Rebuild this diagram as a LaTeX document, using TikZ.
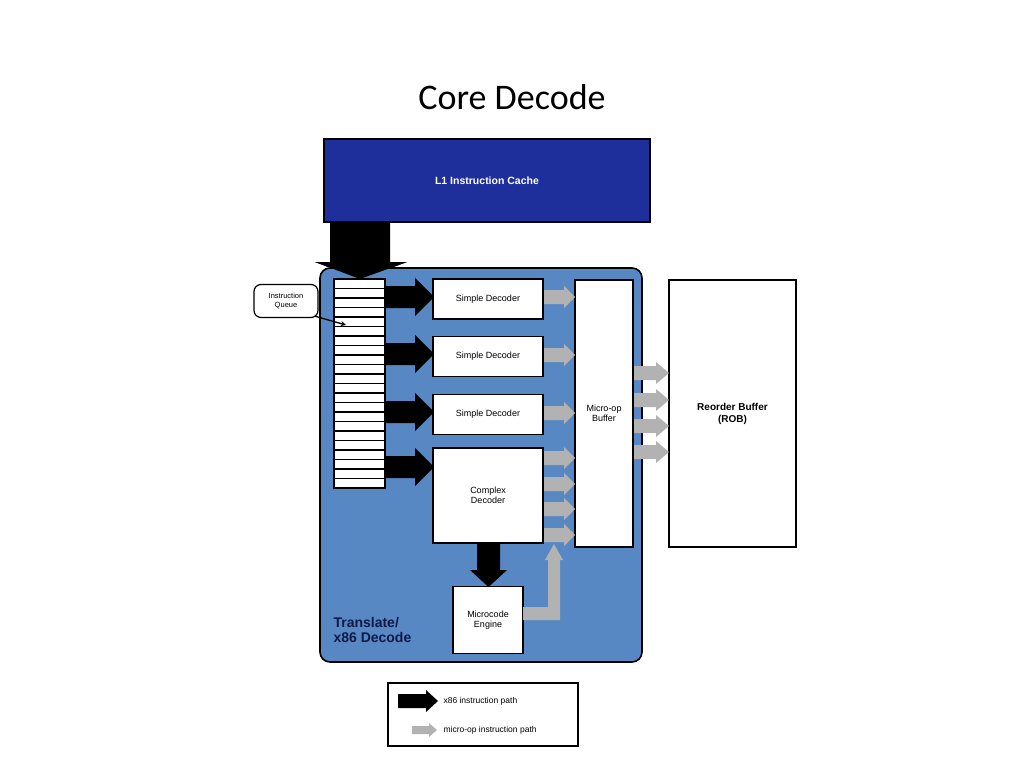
\documentclass[tikz,border=0pt]{standalone}
\usepackage{fontspec}
\setmainfont{Liberation Sans}
\newfontfamily\titlefont{Carlito}
\begin{document}
\begin{tikzpicture}[x=1pt,y=-1pt,
  box/.style={draw=black,line width=1.6pt,fill=white,font=\fontsize{9}{10}\selectfont,align=center,inner sep=0},
  blk/.style={fill=black},
  gry/.style={fill=gray!60}]
\useasboundingbox (0,0) rectangle (1024,768);
\node[font=\titlefont\fontsize{36}{40}\selectfont] (title) at (512,97) {Core Decode};
% L1 cache
\node[box,fill={rgb,255:red,30;green,46;blue,155},minimum width=326,minimum height=83,text=white,font=\bfseries\fontsize{10.5}{12}\selectfont] (l1) at (487,180.5) {L1 Instruction Cache};
% big down arrow
\fill[blk] (330,222) -- (390,222) -- (390,262) -- (407,262) -- (360,279) -- (315,262) -- (330,262) -- cycle;
% panel
\draw[line width=1.6pt,fill={rgb,255:red,88;green,136;blue,196},rounded corners=10] (320,268) rectangle (642,662);
\fill[blk] (330,266) -- (390,266) -- (390,262) -- (407,262) -- (360,279) -- (315,262) -- (330,262) -- cycle;
% queue
\foreach \i in {0,...,21} {\draw[line width=1.2pt,fill=white] (334,{279+\i*9.5}) rectangle (385,{279+(\i+1)*9.5});}
\coordinate (q) at (385,297);
% black arrows to decoders
\foreach \y in {297,354,412,467} {\fill[blk] (385,\y-11) -- (415,\y-11) -- (415,\y-19) -- (434,\y) -- (415,\y+19) -- (415,\y+11) -- (385,\y+11) -- cycle;}
% decoders
\node[box,minimum width=110,minimum height=40] (sd1) at (488,299) {Simple Decoder};
\node[box,minimum width=110,minimum height=40] (sd2) at (488,356.5) {Simple Decoder};
\node[box,minimum width=110,minimum height=40] (sd3) at (488,414.5) {Simple Decoder};
\node[box,minimum width=110,minimum height=95] (cd) at (488,495.5) {Complex\\Decoder};
\node[box,minimum width=58,minimum height=267] (mb) at (604,413.5) {Micro-op\\Buffer};
\node[box,minimum width=70,minimum height=67] (me) at (488,620) {Microcode\\Engine};
\node[box,minimum width=127,minimum height=267,font=\bfseries\fontsize{10}{12}\selectfont] (rob) at (732.5,413.5) {Reorder Buffer\\(ROB)};
% gray arrows
\foreach \y in {297,355,413,458,484,509,535} {\fill[gry] (544,\y-7) -- (564,\y-7) -- (564,\y-11) -- (575,\y) -- (564,\y+11) -- (564,\y+7) -- (544,\y+7) -- cycle;}
\foreach \y in {373,400,426,452} {\fill[gry] (634,\y-7) -- (656,\y-7) -- (656,\y-11) -- (669,\y) -- (656,\y+11) -- (656,\y+7) -- (634,\y+7) -- cycle;}
% complex -> microcode
\fill[blk] (477,544) -- (500,544) -- (500,570) -- (507,570) -- (488.5,587) -- (470,570) -- (477,570) -- cycle;
% microcode -> buffer gray L
\fill[gry] (523,607) -- (548,607) -- (548,560) -- (545,560) -- (554,544) -- (563,560) -- (560,560) -- (560,620) -- (523,620) -- cycle;
% label
\node[font=\bfseries\fontsize{14}{15}\selectfont,text={rgb,255:red,15;green,25;blue,70},align=left,anchor=west] (tr) at (330,630) {Translate/\\x86 Decode};
% callout
\node[draw=black,line width=1.2pt,fill=white,rounded corners=7,minimum width=64,minimum height=33,align=center,font=\fontsize{7.5}{8.5}\selectfont,inner sep=0] (iq) at (286,301) {Instruction\\Queue};
\coordinate (qrow) at (346,325);
\draw[line width=1.3pt,-stealth] (iq.south east) ++(-4,-2) -- (qrow);
% legend
\node[draw=black,line width=1.4pt,fill=white,minimum width=190,minimum height=63] (lg) at (483,714.5) {};
\fill[blk] (398,694) -- (426,694) -- (426,690) -- (438,701) -- (426,712) -- (426,708) -- (398,708) -- cycle;
\node[anchor=west,font=\fontsize{8.5}{10}\selectfont] (l1t) at (440,701) {x86 instruction path};
\fill[gry] (412,726) -- (429,726) -- (429,723) -- (437,730) -- (429,737) -- (429,734) -- (412,734) -- cycle;
\node[anchor=west,font=\fontsize{8.5}{10}\selectfont] (l2t) at (440,730) {micro-op instruction path};
\end{tikzpicture}
\end{document}
